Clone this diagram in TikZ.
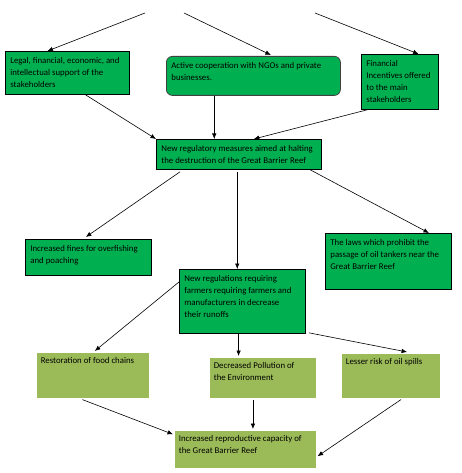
\documentclass[tikz,border=0pt]{standalone}
\usepackage{fontspec}
\setmainfont{Carlito}
\usetikzlibrary{arrows.meta,calc,shadows}
\definecolor{dkgreen}{HTML}{00B050}
\definecolor{olive}{HTML}{9BBB59}
\newcommand{\bx}[3]{\parbox[c][#2pt][t]{#1pt}{\vspace*{2.5pt}\raggedright #3}}
\tikzset{
  dkbox/.style={draw=black, line width=0.8pt, fill=dkgreen, anchor=north west, inner xsep=5pt, inner ysep=3pt, font=\fontsize{8.8}{12}\selectfont},
  rbox/.style={dkbox, draw=black!75, rounded corners=6pt},
  ltbox/.style={draw=white, line width=1.6pt, fill=olive, anchor=north west, inner xsep=5pt, inner ysep=3pt, font=\fontsize{8.8}{12}\selectfont,
     drop shadow={shadow xshift=1.2pt, shadow yshift=-1.2pt, fill=black!30, opacity=1}},
  arr/.style={draw=black, line width=0.6pt, -{Latex[length=5.5pt,width=4.5pt]}}
}
\begin{document}
\begin{tikzpicture}[x=1pt,y=-1pt]
\useasboundingbox (0,0) rectangle (462,473);
% top free ends
\coordinate (t1) at (145,13);
\coordinate (t2) at (184,13);
\coordinate (t3) at (315,13);
% boxes
\node[dkbox] (b1) at (5,51) {\bx{114}{37}{Legal, financial, economic, and\\ intellectual support of the\\ stakeholders}};
\node[rbox] (b2) at (166,56) {\bx{164}{33}{Active cooperation with NGOs and private\\ businesses.}};
\node[dkbox] (b3) at (361,54) {\bx{67}{49}{Financial\\ Incentives offered\\ to the main\\ stakeholders}};
\node[dkbox] (b4) at (156,139) {\bx{155}{24}{New regulatory measures aimed at halting\\ the destruction of the Great Barrier Reef}};
\node[dkbox] (b5) at (25,239) {\bx{116}{30}{Increased fines for overfishing\\ and poaching}};
\node[dkbox] (b6) at (325,233) {\bx{116}{50}{The laws which prohibit the\\ passage of oil tankers near the\\ Great Barrier Reef}};
\node[dkbox] (b7) at (179,269) {\bx{116}{58}{New regulations requiring\\ farmers requiring farmers and\\ manufacturers in decrease\\ their runoffs}};
\node[ltbox] (b8) at (35,351) {\bx{104}{41}{Restoration of food chains}};
\node[ltbox] (b9) at (208,356) {\bx{98}{36}{Decreased Pollution of\\ the Environment}};
\node[ltbox] (b10) at (340,352) {\bx{90}{40}{Lesser risk of oil spills}};
\node[ltbox] (b11) at (173,429) {\bx{133}{33}{Increased reproductive capacity of\\ the Great Barrier Reef}};
% connectors
\draw[arr] (t1) -- ($(b1.north west)!0.34!(b1.north east)$);
\draw[arr] (t2) -- ($(b2.north west)!0.6!(b2.north east)+(0,-1)$);
\draw[arr] (t3) -- ($(b3.north west)!0.74!(b3.north east)$);
\draw[arr] ($(b1.south west)!0.645!(b1.south east)$) -- (b4.north west);
\draw[arr] ($(b2.south west)!0.276!(b2.south east)$) coordinate (s2) -- (s2 |- b4.north);
\draw[arr] ($(b3.south west)!0.08!(b3.south east)$) -- ($(b4.north west)!0.59!(b4.north east)$);
\draw[arr] ($(b4.south west)!0.145!(b4.south east)+(0,2)$) -- ($(b5.north west)!0.48!(b5.north east)+(0,-2)$);
\draw[arr] ($(b4.south west)!0.49!(b4.south east)+(0,2)$) coordinate (s4) -- (s4 |- b7.north);
\draw[arr] ($(b4.south west)!0.93!(b4.south east)$) -- ($(b6.north west)!0.82!(b6.north east)$);
\draw[arr] ($(b7.north west)!0.2!(b7.south west)$) -- ($(b8.north)+(2,0)$);
\draw[arr] ($(b7.south west)!0.47!(b7.south east)$) coordinate (s7) -- (s7 |- b9.north);
\draw[arr] ($(b7.south east)+(3,-1)$) -- ($(b10.north west)!0.66!(b10.north east)$);
\draw[arr] ($(b8.south west)!0.41!(b8.south east)$) -- ($(b11.north west)!0.13!(b11.south west)$);
\draw[arr] ($(b9.south west)!0.41!(b9.south east)$) coordinate (s9) -- (s9 |- b11.north);
\draw[arr] ($(b10.south west)!0.6!(b10.south east)$) -- ($(b11.north east)!0.67!(b11.south east)$);
\end{tikzpicture}
\end{document}
